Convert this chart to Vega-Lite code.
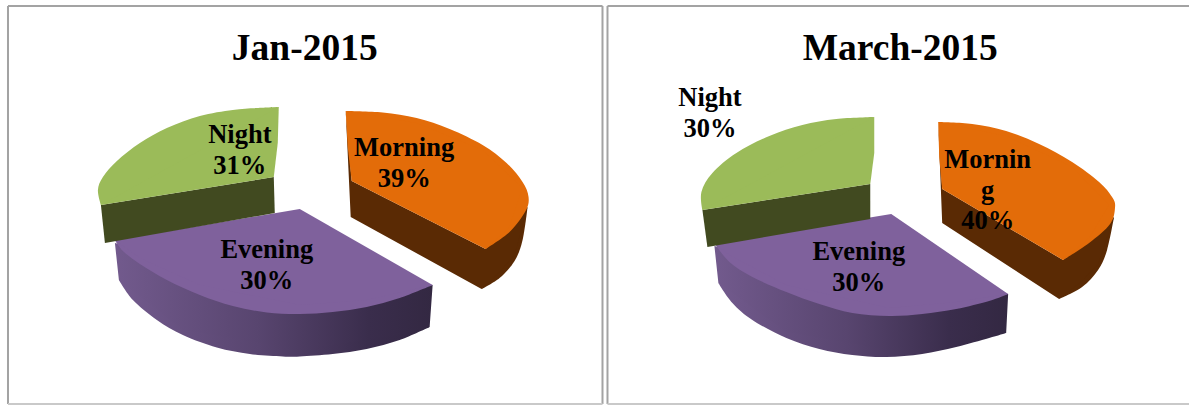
{
  "$schema": "https://vega.github.io/schema/vega-lite/v6.json",
  "autosize": {"type": "fit", "contains": "padding"},
  "width": 1190,
  "height": 405,
  "padding": 0,
  "background": "white",
  "config": {"view": {"stroke": null}},
  "datasets": {
    "frames": [
      {"x": 8, "y": 6, "xEnd": 603, "yEnd": 6, "edge": "solid"},
      {"x": 8, "y": 6, "xEnd": 8, "yEnd": 404, "edge": "solid"},
      {"x": 603, "y": 6, "xEnd": 603, "yEnd": 404, "edge": "solid"},
      {"x": 8, "y": 404, "xEnd": 603, "yEnd": 404, "edge": "pale"},
      {"x": 608, "y": 6, "xEnd": 1190, "yEnd": 6, "edge": "solid"},
      {"x": 608, "y": 6, "xEnd": 608, "yEnd": 404, "edge": "solid"},
      {"x": 608, "y": 404, "xEnd": 1190, "yEnd": 404, "edge": "pale"}
    ],
    "titles": [
      {"chart": "Jan-2015", "x": 305, "y": 60},
      {"chart": "March-2015", "x": 901, "y": 60}
    ],
    "labels": [
      {"chart": "Jan-2015", "part": "Night", "share": 31, "label": "Night\n31%", "x": 240, "y": 143},
      {"chart": "Jan-2015", "part": "Morning", "share": 39, "label": "Morning\n39%", "x": 404.5, "y": 156},
      {"chart": "Jan-2015", "part": "Evening", "share": 30, "label": "Evening\n30%", "x": 267, "y": 258},
      {"chart": "March-2015", "part": "Night", "share": 30, "label": "Night\n30%", "x": 710.5, "y": 106},
      {"chart": "March-2015", "part": "Morning", "share": 40, "label": "Mornin\ng\n40%", "x": 988.5, "y": 168},
      {"chart": "March-2015", "part": "Evening", "share": 30, "label": "Evening\n30%", "x": 859.5, "y": 260}
    ],
    "arcs": [
      {"shape": "jan-evening-wall", "surface": "evening-wall", "i": 1, "x": 119, "y": 280},
      {"shape": "jan-evening-wall", "surface": "evening-wall", "i": 2, "x": 133, "y": 300},
      {"shape": "jan-evening-wall", "surface": "evening-wall", "i": 3, "x": 157, "y": 320},
      {"shape": "jan-evening-wall", "surface": "evening-wall", "i": 4, "x": 183, "y": 335},
      {"shape": "jan-evening-wall", "surface": "evening-wall", "i": 5, "x": 217, "y": 347.5},
      {"shape": "jan-evening-wall", "surface": "evening-wall", "i": 6, "x": 250, "y": 354},
      {"shape": "jan-evening-wall", "surface": "evening-wall", "i": 7, "x": 283, "y": 356.5},
      {"shape": "jan-evening-wall", "surface": "evening-wall", "i": 8, "x": 300, "y": 356.5},
      {"shape": "jan-evening-wall", "surface": "evening-wall", "i": 9, "x": 333, "y": 354},
      {"shape": "jan-evening-wall", "surface": "evening-wall", "i": 10, "x": 367, "y": 349},
      {"shape": "jan-evening-wall", "surface": "evening-wall", "i": 11, "x": 400, "y": 340},
      {"shape": "jan-evening-wall", "surface": "evening-wall", "i": 12, "x": 430, "y": 327},

      {"shape": "mar-evening-wall", "surface": "evening-wall", "i": 1, "x": 719, "y": 283},
      {"shape": "mar-evening-wall", "surface": "evening-wall", "i": 2, "x": 733, "y": 303},
      {"shape": "mar-evening-wall", "surface": "evening-wall", "i": 3, "x": 753, "y": 320},
      {"shape": "mar-evening-wall", "surface": "evening-wall", "i": 4, "x": 787, "y": 338},
      {"shape": "mar-evening-wall", "surface": "evening-wall", "i": 5, "x": 820, "y": 349},
      {"shape": "mar-evening-wall", "surface": "evening-wall", "i": 6, "x": 853, "y": 355},
      {"shape": "mar-evening-wall", "surface": "evening-wall", "i": 7, "x": 887, "y": 357},
      {"shape": "mar-evening-wall", "surface": "evening-wall", "i": 8, "x": 923, "y": 354},
      {"shape": "mar-evening-wall", "surface": "evening-wall", "i": 9, "x": 957, "y": 347},
      {"shape": "mar-evening-wall", "surface": "evening-wall", "i": 10, "x": 990, "y": 338},
      {"shape": "mar-evening-wall", "surface": "evening-wall", "i": 11, "x": 1007, "y": 333},

      {"shape": "jan-evening-top", "surface": "evening-top", "i": 1, "x": 433, "y": 285},
      {"shape": "jan-evening-top", "surface": "evening-top", "i": 2, "x": 400, "y": 298},
      {"shape": "jan-evening-top", "surface": "evening-top", "i": 3, "x": 367, "y": 307},
      {"shape": "jan-evening-top", "surface": "evening-top", "i": 4, "x": 333, "y": 312},
      {"shape": "jan-evening-top", "surface": "evening-top", "i": 5, "x": 300, "y": 314},
      {"shape": "jan-evening-top", "surface": "evening-top", "i": 6, "x": 267, "y": 312.5},
      {"shape": "jan-evening-top", "surface": "evening-top", "i": 7, "x": 233, "y": 306},
      {"shape": "jan-evening-top", "surface": "evening-top", "i": 8, "x": 200, "y": 295},
      {"shape": "jan-evening-top", "surface": "evening-top", "i": 9, "x": 167, "y": 280},
      {"shape": "jan-evening-top", "surface": "evening-top", "i": 10, "x": 140, "y": 264},
      {"shape": "jan-evening-top", "surface": "evening-top", "i": 11, "x": 123, "y": 251},
      {"shape": "jan-evening-top", "surface": "evening-top", "i": 12, "x": 115, "y": 240},

      {"shape": "mar-evening-top", "surface": "evening-top", "i": 1, "x": 1009, "y": 294},
      {"shape": "mar-evening-top", "surface": "evening-top", "i": 2, "x": 990, "y": 301},
      {"shape": "mar-evening-top", "surface": "evening-top", "i": 3, "x": 957, "y": 309},
      {"shape": "mar-evening-top", "surface": "evening-top", "i": 4, "x": 923, "y": 314},
      {"shape": "mar-evening-top", "surface": "evening-top", "i": 5, "x": 890, "y": 316},
      {"shape": "mar-evening-top", "surface": "evening-top", "i": 6, "x": 853, "y": 313},
      {"shape": "mar-evening-top", "surface": "evening-top", "i": 7, "x": 820, "y": 304},
      {"shape": "mar-evening-top", "surface": "evening-top", "i": 8, "x": 787, "y": 292},
      {"shape": "mar-evening-top", "surface": "evening-top", "i": 9, "x": 753, "y": 277},
      {"shape": "mar-evening-top", "surface": "evening-top", "i": 10, "x": 730, "y": 262},
      {"shape": "mar-evening-top", "surface": "evening-top", "i": 11, "x": 715, "y": 243},

      {"shape": "jan-night-top", "surface": "night-top", "i": 1, "x": 279, "y": 107},
      {"shape": "jan-night-top", "surface": "night-top", "i": 2, "x": 257, "y": 108},
      {"shape": "jan-night-top", "surface": "night-top", "i": 3, "x": 233, "y": 110},
      {"shape": "jan-night-top", "surface": "night-top", "i": 4, "x": 200, "y": 116},
      {"shape": "jan-night-top", "surface": "night-top", "i": 5, "x": 167, "y": 128},
      {"shape": "jan-night-top", "surface": "night-top", "i": 6, "x": 140, "y": 143},
      {"shape": "jan-night-top", "surface": "night-top", "i": 7, "x": 117, "y": 161},
      {"shape": "jan-night-top", "surface": "night-top", "i": 8, "x": 103, "y": 177},
      {"shape": "jan-night-top", "surface": "night-top", "i": 9, "x": 98, "y": 190},
      {"shape": "jan-night-top", "surface": "night-top", "i": 10, "x": 101, "y": 205},

      {"shape": "mar-night-top", "surface": "night-top", "i": 1, "x": 875, "y": 117},
      {"shape": "mar-night-top", "surface": "night-top", "i": 2, "x": 837, "y": 119},
      {"shape": "mar-night-top", "surface": "night-top", "i": 3, "x": 803, "y": 125},
      {"shape": "mar-night-top", "surface": "night-top", "i": 4, "x": 770, "y": 136},
      {"shape": "mar-night-top", "surface": "night-top", "i": 5, "x": 737, "y": 153},
      {"shape": "mar-night-top", "surface": "night-top", "i": 6, "x": 713, "y": 173},
      {"shape": "mar-night-top", "surface": "night-top", "i": 7, "x": 702, "y": 192},
      {"shape": "mar-night-top", "surface": "night-top", "i": 8, "x": 703, "y": 210},

      {"shape": "jan-morning-wall", "surface": "morning-wall", "i": 1, "x": 482, "y": 289},
      {"shape": "jan-morning-wall", "surface": "morning-wall", "i": 2, "x": 500, "y": 278},
      {"shape": "jan-morning-wall", "surface": "morning-wall", "i": 3, "x": 515, "y": 261},
      {"shape": "jan-morning-wall", "surface": "morning-wall", "i": 4, "x": 523, "y": 240},
      {"shape": "jan-morning-wall", "surface": "morning-wall", "i": 5, "x": 528, "y": 207},

      {"shape": "mar-morning-wall", "surface": "morning-wall", "i": 1, "x": 1060, "y": 299},
      {"shape": "mar-morning-wall", "surface": "morning-wall", "i": 2, "x": 1083, "y": 287},
      {"shape": "mar-morning-wall", "surface": "morning-wall", "i": 3, "x": 1099, "y": 270},
      {"shape": "mar-morning-wall", "surface": "morning-wall", "i": 4, "x": 1108, "y": 250},
      {"shape": "mar-morning-wall", "surface": "morning-wall", "i": 5, "x": 1115, "y": 217},

      {"shape": "jan-morning-top", "surface": "morning-top", "i": 1, "x": 346, "y": 111},
      {"shape": "jan-morning-top", "surface": "morning-top", "i": 2, "x": 383, "y": 112.5},
      {"shape": "jan-morning-top", "surface": "morning-top", "i": 3, "x": 417, "y": 118},
      {"shape": "jan-morning-top", "surface": "morning-top", "i": 4, "x": 450, "y": 129},
      {"shape": "jan-morning-top", "surface": "morning-top", "i": 5, "x": 483, "y": 145},
      {"shape": "jan-morning-top", "surface": "morning-top", "i": 6, "x": 507, "y": 163},
      {"shape": "jan-morning-top", "surface": "morning-top", "i": 7, "x": 523, "y": 182},
      {"shape": "jan-morning-top", "surface": "morning-top", "i": 8, "x": 529, "y": 197},
      {"shape": "jan-morning-top", "surface": "morning-top", "i": 9, "x": 526, "y": 211},
      {"shape": "jan-morning-top", "surface": "morning-top", "i": 10, "x": 510, "y": 232},
      {"shape": "jan-morning-top", "surface": "morning-top", "i": 11, "x": 486, "y": 249},

      {"shape": "mar-morning-top", "surface": "morning-top", "i": 1, "x": 939, "y": 122},
      {"shape": "mar-morning-top", "surface": "morning-top", "i": 2, "x": 973, "y": 124},
      {"shape": "mar-morning-top", "surface": "morning-top", "i": 3, "x": 1007, "y": 131},
      {"shape": "mar-morning-top", "surface": "morning-top", "i": 4, "x": 1040, "y": 144},
      {"shape": "mar-morning-top", "surface": "morning-top", "i": 5, "x": 1073, "y": 162},
      {"shape": "mar-morning-top", "surface": "morning-top", "i": 6, "x": 1100, "y": 182},
      {"shape": "mar-morning-top", "surface": "morning-top", "i": 7, "x": 1113, "y": 197},
      {"shape": "mar-morning-top", "surface": "morning-top", "i": 8, "x": 1116, "y": 207},
      {"shape": "mar-morning-top", "surface": "morning-top", "i": 9, "x": 1111, "y": 224},
      {"shape": "mar-morning-top", "surface": "morning-top", "i": 10, "x": 1090, "y": 243},
      {"shape": "mar-morning-top", "surface": "morning-top", "i": 11, "x": 1064, "y": 260}
    ],
    "facets": [
      {"shape": "jan-evening-wall", "surface": "evening-wall", "i": 1, "x": 115, "y": 243},
      {"shape": "jan-evening-wall", "surface": "evening-wall", "i": 2, "x": 119, "y": 280},
      {"shape": "jan-evening-wall", "surface": "evening-wall", "i": 3, "x": 183, "y": 330},
      {"shape": "jan-evening-wall", "surface": "evening-wall", "i": 4, "x": 300, "y": 350},
      {"shape": "jan-evening-wall", "surface": "evening-wall", "i": 5, "x": 400, "y": 335},
      {"shape": "jan-evening-wall", "surface": "evening-wall", "i": 6, "x": 430, "y": 327},
      {"shape": "jan-evening-wall", "surface": "evening-wall", "i": 7, "x": 433, "y": 285},
      {"shape": "jan-evening-wall", "surface": "evening-wall", "i": 8, "x": 300, "y": 290},

      {"shape": "mar-evening-wall", "surface": "evening-wall", "i": 1, "x": 715, "y": 246},
      {"shape": "mar-evening-wall", "surface": "evening-wall", "i": 2, "x": 719, "y": 283},
      {"shape": "mar-evening-wall", "surface": "evening-wall", "i": 3, "x": 787, "y": 332},
      {"shape": "mar-evening-wall", "surface": "evening-wall", "i": 4, "x": 887, "y": 350},
      {"shape": "mar-evening-wall", "surface": "evening-wall", "i": 5, "x": 990, "y": 333},
      {"shape": "mar-evening-wall", "surface": "evening-wall", "i": 6, "x": 1007, "y": 333},
      {"shape": "mar-evening-wall", "surface": "evening-wall", "i": 7, "x": 1009, "y": 294},
      {"shape": "mar-evening-wall", "surface": "evening-wall", "i": 8, "x": 890, "y": 290},

      {"shape": "jan-evening-top", "surface": "evening-top", "i": 1, "x": 300, "y": 209},
      {"shape": "jan-evening-top", "surface": "evening-top", "i": 2, "x": 433, "y": 285},
      {"shape": "jan-evening-top", "surface": "evening-top", "i": 3, "x": 367, "y": 300},
      {"shape": "jan-evening-top", "surface": "evening-top", "i": 4, "x": 300, "y": 305},
      {"shape": "jan-evening-top", "surface": "evening-top", "i": 5, "x": 200, "y": 285},
      {"shape": "jan-evening-top", "surface": "evening-top", "i": 6, "x": 140, "y": 258},
      {"shape": "jan-evening-top", "surface": "evening-top", "i": 7, "x": 115, "y": 240},

      {"shape": "mar-evening-top", "surface": "evening-top", "i": 1, "x": 892, "y": 214},
      {"shape": "mar-evening-top", "surface": "evening-top", "i": 2, "x": 1009, "y": 294},
      {"shape": "mar-evening-top", "surface": "evening-top", "i": 3, "x": 957, "y": 302},
      {"shape": "mar-evening-top", "surface": "evening-top", "i": 4, "x": 890, "y": 308},
      {"shape": "mar-evening-top", "surface": "evening-top", "i": 5, "x": 787, "y": 285},
      {"shape": "mar-evening-top", "surface": "evening-top", "i": 6, "x": 730, "y": 255},
      {"shape": "mar-evening-top", "surface": "evening-top", "i": 7, "x": 715, "y": 243},

      {"shape": "jan-night-wall", "surface": "night-wall", "i": 1, "x": 101, "y": 205},
      {"shape": "jan-night-wall", "surface": "night-wall", "i": 2, "x": 274, "y": 177},
      {"shape": "jan-night-wall", "surface": "night-wall", "i": 3, "x": 275, "y": 213},
      {"shape": "jan-night-wall", "surface": "night-wall", "i": 4, "x": 105, "y": 243},

      {"shape": "mar-night-wall", "surface": "night-wall", "i": 1, "x": 703, "y": 210},
      {"shape": "mar-night-wall", "surface": "night-wall", "i": 2, "x": 871, "y": 184},
      {"shape": "mar-night-wall", "surface": "night-wall", "i": 3, "x": 871, "y": 219},
      {"shape": "mar-night-wall", "surface": "night-wall", "i": 4, "x": 708, "y": 247},

      {"shape": "jan-night-top", "surface": "night-top", "i": 1, "x": 279, "y": 107},
      {"shape": "jan-night-top", "surface": "night-top", "i": 2, "x": 233, "y": 114},
      {"shape": "jan-night-top", "surface": "night-top", "i": 3, "x": 167, "y": 133},
      {"shape": "jan-night-top", "surface": "night-top", "i": 4, "x": 117, "y": 168},
      {"shape": "jan-night-top", "surface": "night-top", "i": 5, "x": 101, "y": 205},
      {"shape": "jan-night-top", "surface": "night-top", "i": 6, "x": 274, "y": 177},
      {"shape": "jan-night-top", "surface": "night-top", "i": 7, "x": 278, "y": 143},

      {"shape": "mar-night-top", "surface": "night-top", "i": 1, "x": 875, "y": 117},
      {"shape": "mar-night-top", "surface": "night-top", "i": 2, "x": 837, "y": 123},
      {"shape": "mar-night-top", "surface": "night-top", "i": 3, "x": 770, "y": 141},
      {"shape": "mar-night-top", "surface": "night-top", "i": 4, "x": 713, "y": 180},
      {"shape": "mar-night-top", "surface": "night-top", "i": 5, "x": 703, "y": 210},
      {"shape": "mar-night-top", "surface": "night-top", "i": 6, "x": 871, "y": 184},
      {"shape": "mar-night-top", "surface": "night-top", "i": 7, "x": 875, "y": 153},

      {"shape": "jan-morning-wall", "surface": "morning-wall", "i": 1, "x": 346, "y": 111},
      {"shape": "jan-morning-wall", "surface": "morning-wall", "i": 2, "x": 351, "y": 217},
      {"shape": "jan-morning-wall", "surface": "morning-wall", "i": 3, "x": 482, "y": 289},
      {"shape": "jan-morning-wall", "surface": "morning-wall", "i": 4, "x": 500, "y": 272},
      {"shape": "jan-morning-wall", "surface": "morning-wall", "i": 5, "x": 515, "y": 255},
      {"shape": "jan-morning-wall", "surface": "morning-wall", "i": 6, "x": 528, "y": 207},
      {"shape": "jan-morning-wall", "surface": "morning-wall", "i": 7, "x": 486, "y": 249},
      {"shape": "jan-morning-wall", "surface": "morning-wall", "i": 8, "x": 352, "y": 181},

      {"shape": "mar-morning-wall", "surface": "morning-wall", "i": 1, "x": 939, "y": 122},
      {"shape": "mar-morning-wall", "surface": "morning-wall", "i": 2, "x": 943, "y": 223},
      {"shape": "mar-morning-wall", "surface": "morning-wall", "i": 3, "x": 1060, "y": 299},
      {"shape": "mar-morning-wall", "surface": "morning-wall", "i": 4, "x": 1083, "y": 281},
      {"shape": "mar-morning-wall", "surface": "morning-wall", "i": 5, "x": 1099, "y": 264},
      {"shape": "mar-morning-wall", "surface": "morning-wall", "i": 6, "x": 1115, "y": 217},
      {"shape": "mar-morning-wall", "surface": "morning-wall", "i": 7, "x": 1064, "y": 260},
      {"shape": "mar-morning-wall", "surface": "morning-wall", "i": 8, "x": 943, "y": 189},

      {"shape": "jan-morning-top", "surface": "morning-top", "i": 1, "x": 346, "y": 111},
      {"shape": "jan-morning-top", "surface": "morning-top", "i": 2, "x": 417, "y": 123},
      {"shape": "jan-morning-top", "surface": "morning-top", "i": 3, "x": 483, "y": 150},
      {"shape": "jan-morning-top", "surface": "morning-top", "i": 4, "x": 523, "y": 188},
      {"shape": "jan-morning-top", "surface": "morning-top", "i": 5, "x": 510, "y": 227},
      {"shape": "jan-morning-top", "surface": "morning-top", "i": 6, "x": 486, "y": 249},
      {"shape": "jan-morning-top", "surface": "morning-top", "i": 7, "x": 352, "y": 181},
      {"shape": "jan-morning-top", "surface": "morning-top", "i": 8, "x": 348, "y": 147},

      {"shape": "mar-morning-top", "surface": "morning-top", "i": 1, "x": 939, "y": 122},
      {"shape": "mar-morning-top", "surface": "morning-top", "i": 2, "x": 1007, "y": 136},
      {"shape": "mar-morning-top", "surface": "morning-top", "i": 3, "x": 1073, "y": 167},
      {"shape": "mar-morning-top", "surface": "morning-top", "i": 4, "x": 1110, "y": 205},
      {"shape": "mar-morning-top", "surface": "morning-top", "i": 5, "x": 1090, "y": 238},
      {"shape": "mar-morning-top", "surface": "morning-top", "i": 6, "x": 1064, "y": 260},
      {"shape": "mar-morning-top", "surface": "morning-top", "i": 7, "x": 943, "y": 189},
      {"shape": "mar-morning-top", "surface": "morning-top", "i": 8, "x": 940, "y": 157}
    ]
  },
  "layer": [
    {
      "data": {"name": "frames"},
      "mark": {"type": "rule", "strokeWidth": 2},
      "encoding": {
        "x": {"field": "x", "type": "quantitative", "scale": {"domain": [0, 1190], "nice": false, "zero": false}, "axis": null},
        "y": {"field": "y", "type": "quantitative", "scale": {"domain": [405, 0], "nice": false, "zero": false}, "axis": null},
        "x2": {"field": "xEnd"},
        "y2": {"field": "yEnd"},
        "color": {"field": "edge", "type": "nominal", "scale": {"domain": ["solid", "pale"], "range": ["#a3a3a3", "#c9c9c9"]}, "legend": null}
      }
    },
    {
      "data": {"name": "arcs"},
      "transform": [{"filter": "datum.surface === 'evening-wall'"}],
      "mark": {
        "type": "line", "stroke": null, "interpolate": "cardinal", "tension": 0,
        "fill": {
          "gradient": "linear", "x1": 0, "y1": 0, "x2": 1, "y2": 0,
          "stops": [
            {"offset": 0, "color": "#725a8d"},
            {"offset": 0.45, "color": "#58456f"},
            {"offset": 0.8, "color": "#3a2d4c"},
            {"offset": 1, "color": "#332842"}
          ]
        }
      },
      "encoding": {
        "x": {"field": "x", "type": "quantitative", "axis": null},
        "y": {"field": "y", "type": "quantitative", "axis": null},
        "detail": {"field": "shape"},
        "order": {"field": "i", "type": "quantitative"}
      }
    },
    {
      "data": {"name": "facets"},
      "transform": [{"filter": "datum.surface === 'evening-wall'"}],
      "mark": {
        "type": "line", "stroke": null,
        "fill": {
          "gradient": "linear", "x1": 0, "y1": 0, "x2": 1, "y2": 0,
          "stops": [
            {"offset": 0, "color": "#725a8d"},
            {"offset": 0.45, "color": "#58456f"},
            {"offset": 0.8, "color": "#3a2d4c"},
            {"offset": 1, "color": "#332842"}
          ]
        }
      },
      "encoding": {
        "x": {"field": "x", "type": "quantitative", "axis": null},
        "y": {"field": "y", "type": "quantitative", "axis": null},
        "detail": {"field": "shape"},
        "order": {"field": "i", "type": "quantitative"}
      }
    },
    {
      "data": {"name": "arcs"},
      "transform": [{"filter": "datum.surface === 'evening-top' || datum.surface === 'morning-wall'"}],
      "mark": {"type": "line", "stroke": null, "interpolate": "cardinal", "tension": 0},
      "encoding": {
        "x": {"field": "x", "type": "quantitative", "axis": null},
        "y": {"field": "y", "type": "quantitative", "axis": null},
        "detail": {"field": "shape"},
        "order": {"field": "i", "type": "quantitative"},
        "fill": {"field": "surface", "type": "nominal", "legend": null, "scale": {"domain": ["evening-top", "night-wall", "night-top", "morning-wall", "morning-top"], "range": ["#7f619c", "#414a20", "#9bbb59", "#5a2a04", "#e36c09"]}}
      }
    },
    {
      "data": {"name": "facets"},
      "transform": [{"filter": "datum.surface === 'evening-top' || datum.surface === 'night-wall' || datum.surface === 'night-top' || datum.surface === 'morning-wall'"}],
      "mark": {"type": "line", "stroke": null},
      "encoding": {
        "x": {"field": "x", "type": "quantitative", "axis": null},
        "y": {"field": "y", "type": "quantitative", "axis": null},
        "detail": {"field": "shape"},
        "order": {"field": "i", "type": "quantitative"},
        "fill": {"field": "surface", "type": "nominal", "legend": null, "scale": {"domain": ["evening-top", "night-wall", "night-top", "morning-wall", "morning-top"], "range": ["#7f619c", "#414a20", "#9bbb59", "#5a2a04", "#e36c09"]}}
      }
    },
    {
      "data": {"name": "arcs"},
      "transform": [{"filter": "datum.surface === 'night-top' || datum.surface === 'morning-top'"}],
      "mark": {"type": "line", "stroke": null, "interpolate": "cardinal", "tension": 0},
      "encoding": {
        "x": {"field": "x", "type": "quantitative", "axis": null},
        "y": {"field": "y", "type": "quantitative", "axis": null},
        "detail": {"field": "shape"},
        "order": {"field": "i", "type": "quantitative"},
        "fill": {"field": "surface", "type": "nominal", "legend": null, "scale": {"domain": ["evening-top", "night-wall", "night-top", "morning-wall", "morning-top"], "range": ["#7f619c", "#414a20", "#9bbb59", "#5a2a04", "#e36c09"]}}
      }
    },
    {
      "data": {"name": "facets"},
      "transform": [{"filter": "datum.surface === 'morning-top'"}],
      "mark": {"type": "line", "stroke": null},
      "encoding": {
        "x": {"field": "x", "type": "quantitative", "axis": null},
        "y": {"field": "y", "type": "quantitative", "axis": null},
        "detail": {"field": "shape"},
        "order": {"field": "i", "type": "quantitative"},
        "fill": {"field": "surface", "type": "nominal", "legend": null, "scale": {"domain": ["evening-top", "night-wall", "night-top", "morning-wall", "morning-top"], "range": ["#7f619c", "#414a20", "#9bbb59", "#5a2a04", "#e36c09"]}}
      }
    },
    {
      "data": {"name": "titles"},
      "mark": {"type": "text", "font": "Liberation Serif", "fontWeight": "bold", "fontSize": 37.5, "align": "center", "baseline": "alphabetic", "color": "black"},
      "encoding": {
        "x": {"field": "x", "type": "quantitative", "axis": null},
        "y": {"field": "y", "type": "quantitative", "axis": null},
        "text": {"field": "chart"}
      }
    },
    {
      "data": {"name": "labels"},
      "mark": {"type": "text", "font": "Liberation Serif", "fontWeight": "bold", "fontSize": 26.5, "align": "center", "baseline": "alphabetic", "lineBreak": "\n", "lineHeight": 30.5, "color": "black"},
      "encoding": {
        "x": {"field": "x", "type": "quantitative", "axis": null},
        "y": {"field": "y", "type": "quantitative", "axis": null},
        "text": {"field": "label"}
      }
    }
  ]
}
